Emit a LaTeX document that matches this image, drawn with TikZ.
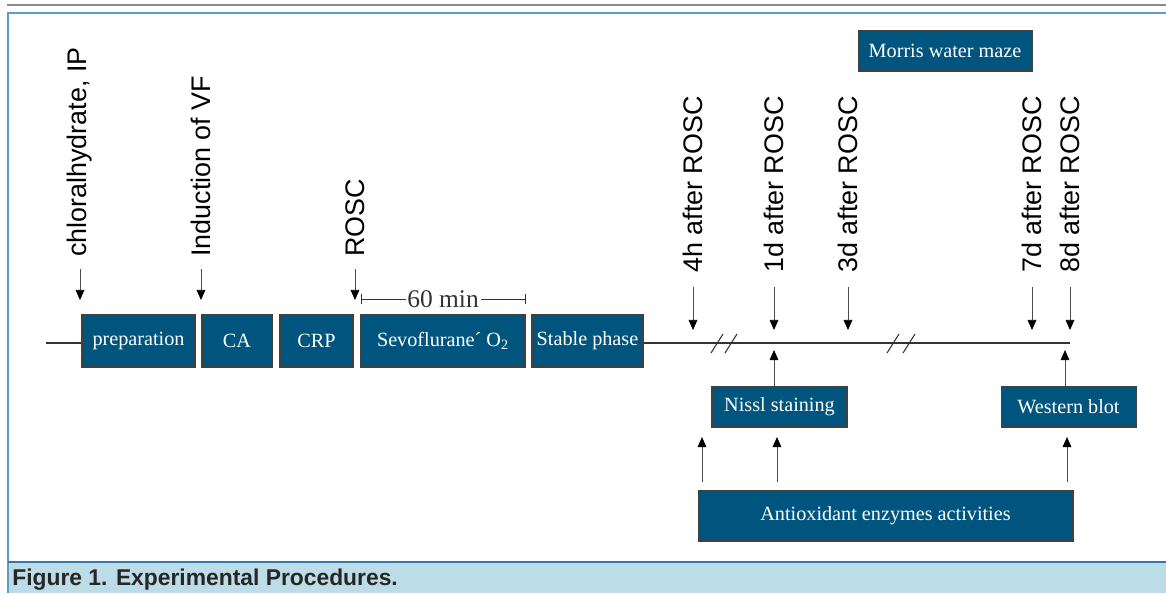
\documentclass[tikz,border=0pt]{standalone}
\usepackage{fontspec}
\setmainfont{Liberation Serif}
\setsansfont{Liberation Sans}
\usetikzlibrary{arrows.meta}
\definecolor{boxblue}{HTML}{00557F}
\definecolor{frameblue}{HTML}{5C9DC8}
\definecolor{capblue}{HTML}{BCDCE8}
\definecolor{caplineblue}{HTML}{3478AA}

\begin{document}
\begin{tikzpicture}[
    x=0.02cm, y=-0.02cm,
    stage/.style={draw=black!75, fill=boxblue, text=white, inner sep=0pt, line width=0.6pt, font=\fontsize{11.5}{13}\selectfont},
    tlabel/.style={rotate=90, anchor=west, inner sep=0pt, font=\sffamily\fontsize{15.3}{17}\selectfont},
    arrow/.style={-{Triangle[length=5.8pt,width=5pt,color=black]}, black!70, line width=0.5pt},
    tline/.style={black!80, line width=0.6pt}
]
\useasboundingbox (0,0) rectangle (1166,593);

% frame and caption band
\draw[gray!90, line width=1.2pt] (7,5) -- (1166,5);
\fill[capblue] (8,562) rectangle (1170,593);
\draw[frameblue, line width=0.8pt] (1170,13) -- (8,13) -- (8,593);
\draw[caplineblue, line width=0.8pt] (8,562) -- (1170,562);
\node[anchor=base west, inner sep=0pt, text=black!85, font=\sffamily\bfseries\fontsize{13}{15}\selectfont] (cap) at (12,585) {Figure 1. Experimental Procedures.};

% stages
\node[stage, minimum width=2.26cm, minimum height=1.04cm] (prep) at (138.5,341) {preparation};
\node[stage, minimum width=1.4cm, minimum height=1.04cm] (ca) at (237,341) {CA};
\node[stage, minimum width=1.46cm, minimum height=1.04cm] (crp) at (316.5,341) {CRP};
\node[stage, minimum width=3.28cm, minimum height=1.04cm] (sevo) at (443,341) {Sevoflurane´ O\textsubscript{2}};
\node[stage, minimum width=2.22cm, minimum height=1.04cm] (stable) at (587.5,341) {Stable phase};

\node[stage, minimum width=3.48cm, minimum height=0.8cm] (morris) at (945,51) {Morris water maze};
\node[stage, minimum width=2.7cm, minimum height=0.8cm] (nissl) at (779.5,407) {Nissl staining};
\node[stage, minimum width=2.7cm, minimum height=0.8cm] (wb) at (1068.5,407) {Western blot};
\node[stage, minimum width=7.5cm, minimum height=1.0cm] (aox) at (885.5,516) {Antioxidant enzymes activities};

% time line
\coordinate (lstart) at (46,343);
\coordinate (lend) at (1070,343);
\draw[tline] (lstart) -- (lstart -| prep.west);
\draw[tline] (stable.east |- lend) -- (lend);
\foreach \bx in {717,731,893,909}
  \draw[tline] (\bx-6,353) -- (\bx+6,334);

% 60 min
\coordinate (m0) at (361,299);
\coordinate (m1) at (525,299);
\draw[tline, line width=0.5pt] (m0) -- node[fill=white, inner sep=1pt, font=\fontsize{14.5}{16}\selectfont] (min) {60 min} (m1);
\draw[tline, line width=0.5pt] (361,294) -- (361,304) (525,294) -- (525,304);

% time points
\node[tlabel] (chl) at (80,257) {chloralhydrate, IP};
\node[tlabel] (vf) at (201,257) {Induction of VF};
\node[tlabel] (rosc) at (355,257) {ROSC};
\node[tlabel] (h4) at (693,273) {4h after ROSC};
\node[tlabel] (d1) at (774,273) {1d after ROSC};
\node[tlabel] (d3) at (848,273) {3d after ROSC};
\node[tlabel] (d7) at (1032,273) {7d after ROSC};
\node[tlabel] (d8) at (1070,273) {8d after ROSC};

\coordinate (tchl) at (80,300);
\coordinate (tvf) at (201,300);
\coordinate (trosc) at (355,300);
\draw[arrow, shorten <=7pt] (chl.west) -- (tchl);
\draw[arrow, shorten <=7pt] (vf.west) -- (tvf);
\draw[arrow, shorten <=7pt] (rosc.west) -- (trosc);
\foreach \lb in {h4,d1,d3,d7,d8}
  \draw[arrow, shorten <=8pt] (\lb.west) -- ++(0,57);

% measurements
\coordinate (un) at (774,350);
\coordinate (uw) at (1065,350);
\draw[arrow] (nissl.north -| un) -- (un);
\draw[arrow] (wb.north -| uw) -- (uw);
\coordinate (a1) at (702,437);
\coordinate (a2) at (777,437);
\coordinate (a3) at (1067,437);
\foreach \ap in {a1,a2,a3}
  \draw[arrow, shorten <=5pt] (aox.north -| \ap) -- (\ap);
\end{tikzpicture}
\end{document}
